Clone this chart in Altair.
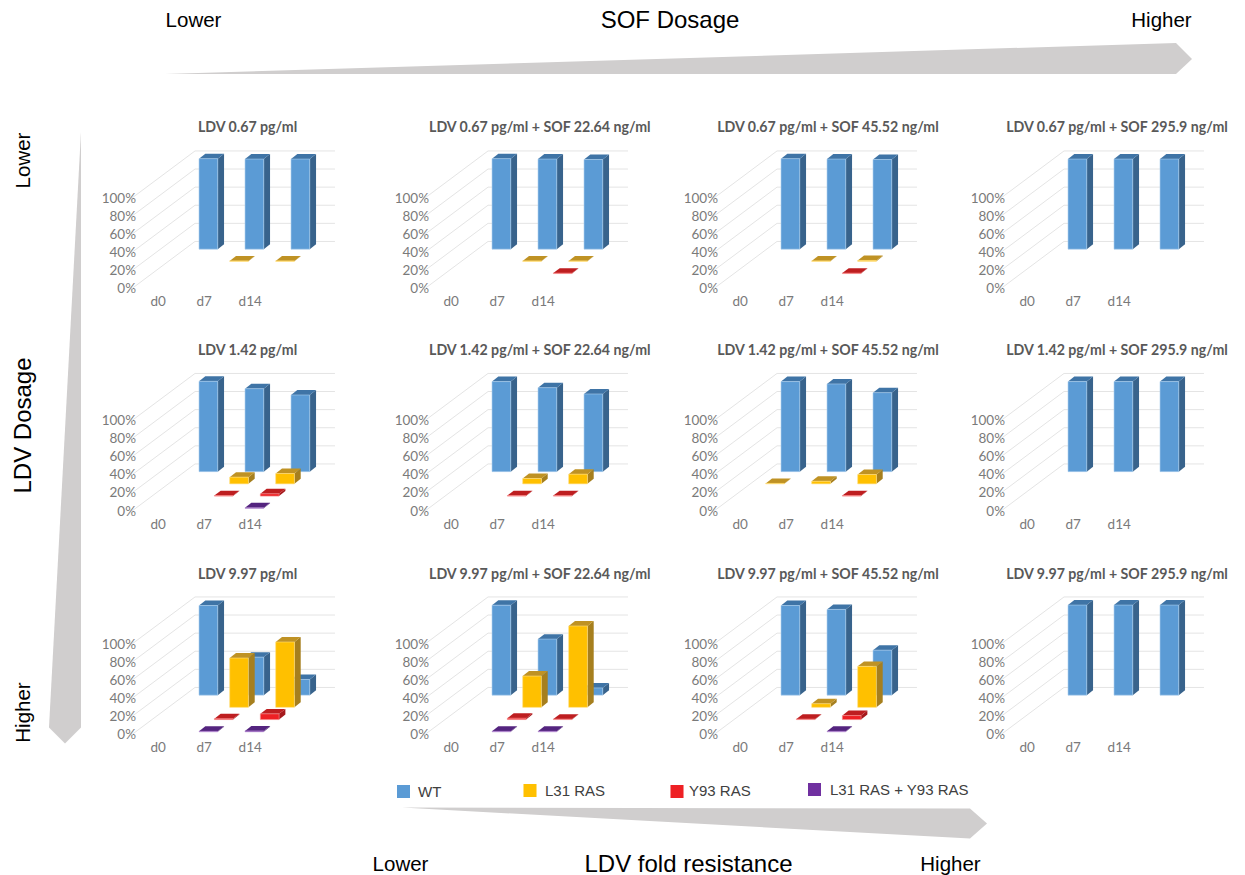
import altair as alt
import pandas as pd

# ---- labels ----
ldv_doses = ["LDV 0.67 pg/ml", "LDV 1.42 pg/ml", "LDV 9.97 pg/ml"]
sof_doses = ["", " + SOF 22.64 ng/ml", " + SOF 45.52 ng/ml", " + SOF 295.9 ng/ml"]
day_labels = ["d0", "d7", "d14"]
series_names = ["WT", "L31 RAS", "Y93 RAS", "L31 RAS + Y93 RAS"]
percent_ticks = [0, 20, 40, 60, 80, 100]

# ---- read frequencies in percent: [LDV row][SOF column][day]; 0 means no bar ----
wt_values = [
    [[100, 99.5, 99.5], [100, 99.5, 99], [100, 99.5, 99], [99.5, 99.5, 99.5]],
    [[99.8, 91.7, 84.7], [99.5, 92.8, 85.8], [99.5, 96.9, 87.3], [99.5, 99.5, 99.5]],
    [[99, 42, 17.3], [99.4, 61.9, 8], [99, 94.7, 49.7], [99.5, 99.5, 99.5]],
]
l31_values = [
    [[0, 0.5, 0.5], [0, 0.5, 0.5], [0, 0.5, 1], [0, 0, 0]],
    [[0, 7.4, 11.4], [0, 5.9, 10.7], [0.5, 2.9, 10.3], [0, 0, 0]],
    [[0, 54.5, 72.2], [0, 34.6, 89.9], [0, 4, 45.3], [0, 0, 0]],
]
y93_values = [
    [[0, 0, 0], [0, 0, 0.5], [0, 0, 0.5], [0, 0, 0]],
    [[0, 0.5, 2.5], [0, 0.5, 0.5], [0, 0, 0.5], [0, 0, 0]],
    [[0, 1, 6.3], [0, 1.5, 0.5], [0, 0.5, 4.4], [0, 0, 0]],
]
double_values = [
    [[0, 0, 0], [0, 0, 0], [0, 0, 0], [0, 0, 0]],
    [[0, 0, 0.5], [0, 0, 0], [0, 0, 0], [0, 0, 0]],
    [[0, 0.5, 1], [0, 0.5, 0.5], [0, 0, 0.5], [0, 0, 0]],
]
all_values = [wt_values, l31_values, y93_values, double_values]

# ---- colours per series: front, side and top faces ----
front_colors = ["#5B9BD5", "#FFC000", "#EE2024", "#7030A0"]
side_colors = ["#38638C", "#A67F1E", "#A5191C", "#4A2070"]
top_colors = ["#3F74A6", "#BF9224", "#BE1E20", "#54247F"]
edge_colors = ["#A9CDEC", "#FFDD80", "#F78A8A", "#B48AD0"]

# ---- oblique projection, in axis units (days on x, percent on y) ----
PX_PER_DAY = 46.0
PX_PER_PERCENT = 0.905
X_START = -0.559          # left end of each panel
BAR_OFFSET = -0.102       # front row, first day
BAR_WIDTH = 0.407
DEPTH_X_STEP = 1 / 3      # shift between series rows
DEPTH_Y_STEP = 13.5
BASE_Y = 3.0
CAP_X = 0.137             # depth of one bar
CAP_Y = 5.5
WALL_BACK_X = 0.811
WALL_BACK_Y = 52.0
WALL_END_X = 3.854

FONT = "Lato"
AXIS_COLOR = "#7A7A7A"
GRID_COLOR = "#E4E4E4"
ARROW_COLOR = "#D0CECE"
HEAD_FONT = "Liberation Sans"

# ---- page grid: a narrow first column and first/last rows carry the annotations ----
COLUMN_WIDTHS = [207.2, 203.2, 201.9, 203.0]
COLUMN_SPACING = 85
ROW_HEIGHTS = [150, 150, 151]
ROW_SPACING = 72.5
TITLE_SHIFT = [12, 13.2, 13, 14.5]
TITLE_OFFSET = [3, 2.5, 1.5]
MARGIN_WIDTH = 47
HEADER_HEIGHT = 65.5
FOOTER_HEIGHT = 68.5
ROW_ONE_TOP = 138
FOOTER_TOP = 806.5


def wall_frames():
    side = pd.DataFrame({
        "x": [X_START] * 6, "x2": [WALL_BACK_X] * 6,
        "y": percent_ticks, "y2": [t + WALL_BACK_Y for t in percent_ticks],
    })
    back = pd.DataFrame({
        "x": [WALL_BACK_X] * 6, "x2": [WALL_END_X] * 6,
        "y": [t + WALL_BACK_Y for t in percent_ticks],
        "y2": [t + WALL_BACK_Y for t in percent_ticks],
    })
    return pd.concat([side, back], ignore_index=True)


def bar_frames(values, depth):
    """Front, side and top faces of one series row in one panel."""
    front, side, top = [], [], []
    for day, value in enumerate(values):
        if value <= 0:
            continue
        left = day + BAR_OFFSET + depth * DEPTH_X_STEP
        right = left + BAR_WIDTH
        base = BASE_Y + depth * DEPTH_Y_STEP
        high = base + value
        front.append({"x": left, "x2": right, "y": base, "y2": high})
        side.append({"bar": day, "x": right, "y": base, "y2": high})
        side.append({"bar": day, "x": right + CAP_X, "y": base + CAP_Y, "y2": high + CAP_Y})
        top.append({"bar": day, "y": high, "x": left, "x2": right})
        top.append({"bar": day, "y": high + CAP_Y, "x": left + CAP_X, "x2": right + CAP_X})
    return pd.DataFrame(front), pd.DataFrame(side), pd.DataFrame(top)


def panel(row, col):
    width = COLUMN_WIDTHS[col]
    height = ROW_HEIGHTS[row]
    x_axis = alt.Axis(
        values=[0, 1, 2], labelExpr="['d0','d7','d14'][datum.value]", title=None, grid=False,
        domain=False, ticks=False, tickSize=0, labelPadding=6, labelFont=FONT, labelFontSize=13.5,
        labelColor=AXIS_COLOR, labelFlush=False,
    )
    y_axis = alt.Axis(
        values=percent_ticks, labelExpr="datum.value + '%'", title=None, grid=False,
        domain=False, ticks=False, tickSize=0, labelPadding=-3.5, labelFont=FONT, labelFontSize=13.5,
        labelColor=AXIS_COLOR, labelFlush=False,
    )
    x_enc = alt.X(
        "x:Q", axis=x_axis,
        scale=alt.Scale(domain=[X_START, X_START + width / PX_PER_DAY], nice=False, zero=False),
    )
    y_enc = alt.Y(
        "y:Q", axis=y_axis,
        scale=alt.Scale(domain=[0, height / PX_PER_PERCENT], nice=False, zero=False),
    )

    layers = [
        alt.Chart(wall_frames()).mark_rule(color=GRID_COLOR, strokeWidth=1).encode(
            x=x_enc, x2="x2:Q", y=y_enc, y2="y2:Q",
        )
    ]

    # series are painted from the back row to the front row
    for s, series in enumerate(all_values):
        values = series[row][col]
        if not any(values):
            continue
        front, side, top = bar_frames(values, len(all_values) - 1 - s)
        layers.append(alt.Chart(side).mark_area(color=side_colors[s]).encode(
            x=x_enc, y=y_enc, y2="y2:Q", detail="bar:N"))
        layers.append(alt.Chart(top).mark_area(color=top_colors[s], orient="horizontal").encode(
            y=y_enc, x=x_enc, x2="x2:Q", detail="bar:N"))
        layers.append(alt.Chart(front).mark_rect(
            color=front_colors[s], stroke=edge_colors[s], strokeWidth=0.6).encode(
            x=x_enc, x2="x2:Q", y=y_enc, y2="y2:Q"))

    return alt.layer(*layers).properties(
        width=width,
        height=height,
        title=alt.TitleParams(
            ldv_doses[row] + sof_doses[col], font=FONT, fontSize=14.2, fontWeight="bold",
            color="#595959", anchor="middle", dx=TITLE_SHIFT[col], offset=TITLE_OFFSET[row],
        ),
    )


def label(text, x, y, size, angle=0, color="#000000", align="center"):
    return alt.Chart(pd.DataFrame({"label": [text]})).mark_text(
        font=HEAD_FONT, fontSize=size, angle=angle, color=color, align=align, baseline="middle",
    ).encode(text="label:N", x=alt.value(x), y=alt.value(y))


def arrow(path, x, y):
    # with size 4 the symbol path is drawn at one pixel per path unit
    return alt.Chart(pd.DataFrame({"n": [1]})).mark_point(
        shape=path, size=4, filled=True, opacity=1, color=ARROW_COLOR, strokeWidth=0,
    ).encode(x=alt.value(x), y=alt.value(y))


def blank(width=1, height=1):
    # an empty grid cell: a zero-sized, invisible symbol inside the cell
    return alt.Chart(pd.DataFrame({"n": [1]})).mark_point(
        opacity=0, size=1, strokeWidth=0, filled=True
    ).encode(x=alt.value(1), y=alt.value(1)).properties(width=width, height=height)


header = alt.layer(
    arrow("M0,0L1011,-31L1027,-15L1011,0Z", 165, 74),
    label("Lower", 193.5, 21, 20.5),
    label("SOF Dosage", 670, 21, 24),
    label("Higher", 1161.5, 21, 20.5),
).properties(width=MARGIN_WIDTH, height=HEADER_HEIGHT)

strip = alt.layer(
    arrow("M0,0L0,596L-16,612L-32,596Z", 81, 131 - ROW_ONE_TOP),
    label("Lower", 24, 160 - ROW_ONE_TOP, 20.5, angle=270),
    label("LDV Dosage", 24, 425 - ROW_ONE_TOP, 24, angle=270),
    label("Higher", 24, 712 - ROW_ONE_TOP, 20.5, angle=270),
).properties(width=MARGIN_WIDTH, height=ROW_HEIGHTS[0])

legend_marks = []
for name, color, box_x, box_y, text_x, text_y in zip(
    series_names, front_colors,
    [403.5, 530, 677, 814.5], [791, 790, 791, 789],
    [418, 545, 689, 830], [791, 790, 790, 789],
):
    legend_marks.append(
        alt.Chart(pd.DataFrame({"n": [1]})).mark_square(size=170, color=color, opacity=1).encode(
            x=alt.value(box_x), y=alt.value(box_y - FOOTER_TOP))
    )
    legend_marks.append(label(name, text_x, text_y - FOOTER_TOP, 15, color="#404040", align="left"))

footer = alt.layer(
    arrow("M0,0L568,1L585,16L568,31Z", 402, 807 - FOOTER_TOP),
    *legend_marks,
    label("Lower", 400.5, 864 - FOOTER_TOP, 20.5),
    label("LDV fold resistance", 688.5, 864 - FOOTER_TOP, 24),
    label("Higher", 950.5, 864 - FOOTER_TOP, 20.5),
).properties(width=MARGIN_WIDTH, height=FOOTER_HEIGHT)

# five columns by five rows, laid out flat so every cell keeps its exact size
cells = [header] + [blank() for _ in range(4)]
for r in range(3):
    cells.append(strip if r == 0 else blank())
    cells.extend(panel(r, c) for c in range(4))
cells.append(footer)
cells.extend(blank() for _ in range(4))

chart = (
    alt.concat(
        *cells,
        columns=5,
        spacing={"column": COLUMN_SPACING, "row": ROW_SPACING},
        bounds="flush",
        align="each",
    )
    .properties(padding=0, background="#FFFFFF")
    .configure_view(stroke=None)
)

chart.save("out.html", embed_options={"renderer": "svg", "actions": False})
